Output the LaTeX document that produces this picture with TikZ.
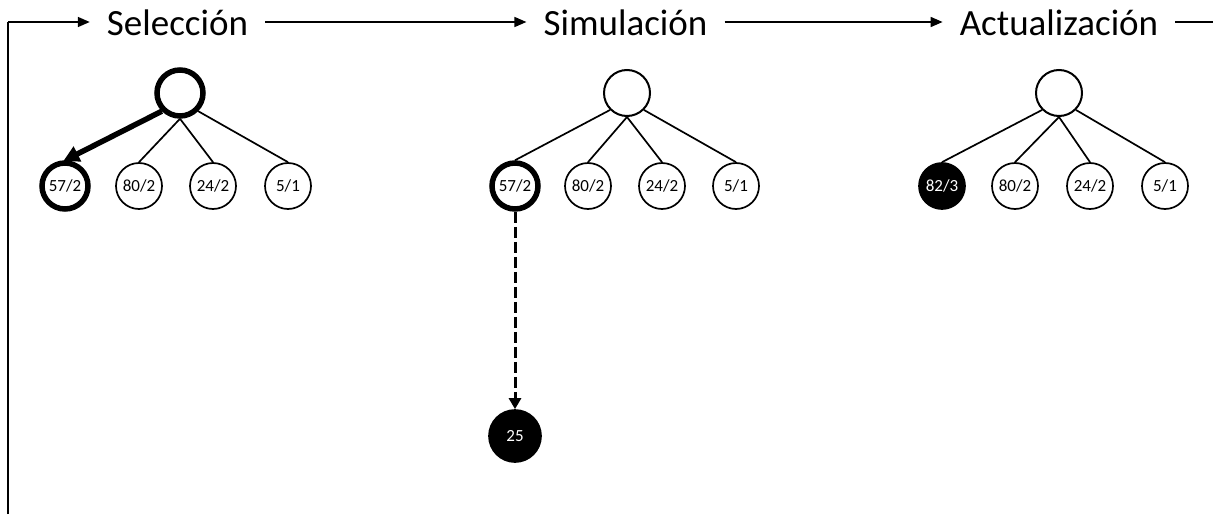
\documentclass[tikz,border=0pt]{standalone}
\usepackage{fontspec}
\setmainfont{Carlito}
\usetikzlibrary{arrows.meta}

\tikzset{
  phase/.style={inner xsep=17pt, inner ysep=0pt, anchor=base, font=\fontsize{37}{40}\selectfont},
  flow/.style={line width=1.6pt, -{Triangle[length=12pt,width=10pt]}},
  flowplain/.style={line width=1.6pt},
  rootnode/.style={circle, draw, line width=2pt, minimum size=46pt, inner sep=0pt},
  leaf/.style={circle, draw, line width=1.7pt, minimum size=46pt, inner sep=0pt,
               font=\fontsize{17}{17}\selectfont},
  picked/.style={line width=5.5pt},
  filled/.style={fill=black, text=white},
  edge/.style={line width=1.7pt},
  choose/.style={line width=5.5pt, -{Triangle[length=16pt,width=16pt]}, shorten >=-2pt},
  rollout/.style={line width=3pt, dash pattern=on 11pt off 4pt, -{Triangle[length=11pt,width=12pt]}}
}

\begin{document}
\begin{tikzpicture}[x=1pt, y=-1pt]
  \useasboundingbox (0,0) rectangle (1214,514);

  % cycle line along the top
  \coordinate (flowy) at (0,22);
  \coordinate (loopbottom) at (8,514);
  \coordinate (loopcorner) at (8,22);
  \coordinate (loopend) at (1213,22);

  \node[phase] (sel) at (177.5,35) {Selección};
  \node[phase] (sim) at (625.5,35) {Simulación};
  \node[phase] (act) at (1059,35) {Actualización};

  \draw[flowplain] (loopbottom) -- (loopcorner);
  \draw[flow] (loopcorner) -- (sel.west |- flowy);
  \draw[flow] (sel.east |- flowy) -- (sim.west |- flowy);
  \draw[flow] (sim.east |- flowy) -- (act.west |- flowy);
  \draw[flowplain] (act.east |- flowy) -- (loopend);

  % selection tree
  \node[rootnode, picked] (r1) at (180,93) {};
  \node[leaf, picked] (a1) at (65,186) {57/2};
  \node[leaf] (b1) at (139,186) {80/2};
  \node[leaf] (c1) at (213,186) {24/2};
  \node[leaf] (d1) at (288,186) {5/1};
  \draw[choose] (r1.south west) -- (a1.north);
  \draw[edge] (r1.south) -- (b1.north);
  \draw[edge] (r1.south) -- (c1.north);
  \draw[edge] (r1.south east) -- (d1.north);

  % simulation tree
  \node[rootnode] (r2) at (627,93) {};
  \node[leaf, picked] (a2) at (515,186) {57/2};
  \node[leaf] (b2) at (588,186) {80/2};
  \node[leaf] (c2) at (662,186) {24/2};
  \node[leaf] (d2) at (736,186) {5/1};
  \node[leaf, filled, minimum size=52pt] (sim2) at (515,436) {25};
  \draw[edge] (r2.south west) -- (a2.north);
  \draw[edge] (r2.south) -- (b2.north);
  \draw[edge] (r2.south) -- (c2.north);
  \draw[edge] (r2.south east) -- (d2.north);
  \draw[rollout] (a2.south) -- (sim2.north);

  % update tree
  \node[rootnode] (r3) at (1059,93) {};
  \node[leaf, filled] (a3) at (942,186) {82/3};
  \node[leaf] (b3) at (1015,186) {80/2};
  \node[leaf] (c3) at (1090,186) {24/2};
  \node[leaf] (d3) at (1165,186) {5/1};
  \draw[edge] (r3.south west) -- (a3.north);
  \draw[edge] (r3.south) -- (b3.north);
  \draw[edge] (r3.south) -- (c3.north);
  \draw[edge] (r3.south east) -- (d3.north);
\end{tikzpicture}
\end{document}
